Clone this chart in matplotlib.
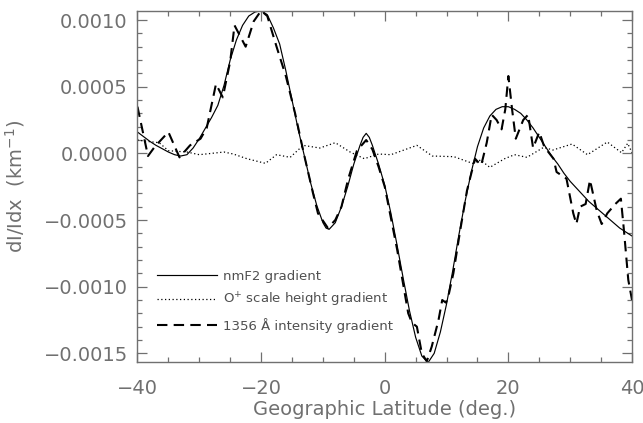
import numpy as np
import matplotlib
matplotlib.use("Agg")
import matplotlib.pyplot as plt
from matplotlib.ticker import MultipleLocator, FuncFormatter

# latitude grids (deg) and gradients (1e-4 km^-1) for the three profiles
lat_nmf2 = [-40, -39, -38, -37, -36, -35, -34, -33, -32, -31, -30, -29, -28, -27,
            -26, -25, -24, -23, -22, -21, -20, -19, -18, -17, -16, -15, -14, -13,
            -12, -11, -10, -9.5, -9, -8, -7, -6, -5, -4, -3.5, -3, -2.5, -2, -1,
            0, 1, 2, 3, 4, 5, 6, 7, 8, 9, 10, 11, 12, 13, 14, 15, 16, 17, 18, 19,
            20, 21, 22, 23, 24, 25, 26, 27, 28, 29, 30, 31, 32, 33, 34, 35, 36,
            37, 38, 39, 40]
grad_nmf2 = [1.6, 1.25, 0.9, 0.6, 0.35, 0.1, -0.1, -0.2, -0.1, 0.4, 1.1, 1.9, 2.7,
             3.6, 5.1, 7.0, 8.5, 9.6, 10.3, 10.6, 10.7, 10.4, 9.4, 8.2, 6.2, 4.0,
             1.8, -0.2, -2.2, -3.9, -5.2, -5.6, -5.7, -5.2, -4.0, -2.5, -0.8, 0.6,
             1.2, 1.5, 1.2, 0.6, -0.8, -2.4, -4.5, -6.9, -9.4, -11.8, -13.8, -15.2,
             -15.7, -15.0, -13.4, -11.3, -8.8, -6.1, -3.6, -1.4, 0.5, 1.9, 2.8,
             3.3, 3.5, 3.5, 3.3, 3.0, 2.5, 1.9, 1.2, 0.5, -0.2, -0.8, -1.5, -2.1,
             -2.6, -3.1, -3.6, -4.0, -4.4, -4.8, -5.2, -5.6, -5.9, -6.2]

lat_scale = [-40, -38.5, -36.5, -35, -32, -30, -28, -26, -24.5, -22.3, -19.3,
             -17.5, -15.3, -13.2, -10.5, -8, -5.6, -3.3, -1, 1, 5.2, 7.7, 11.2,
             14.2, 15.5, 17, 19.4, 21, 23, 25.7, 27.2, 30.3, 32.8, 36, 38.3,
             39.3, 40]
grad_scale = [1.0, 0.9, 0.8, 0.2, 0.1, -0.1, 0.0, 0.1, -0.05, -0.4, -0.75, -0.1,
              -0.3, 0.6, 0.4, 0.8, 0.1, -0.4, -0.05, -0.1, 0.6, -0.2, -0.25,
              -0.75, -0.5, -1.05, -0.4, -0.1, -0.3, 0.45, 0.25, 0.7, -0.1, 0.85,
              0.05, 0.75, 0.05]

lat_1356 = [-40, -38.3, -37.2, -35, -33.2, -31.5, -29.8, -28.8, -27.3, -26.2, -25.0,
            -24.3, -22.5, -21.2, -20.0, -19.0, -17.5, -16, -14.5, -13, -11.6,
            -10.8, -9.2, -8.0, -7.0, -5.9, -4.5, -3.0, -2.0, -1.0, 0.0, 2.0, 3.8,
            4.4, 5.2, 6.0, 6.8, 7.6, 8.7, 9.3, 9.9, 10.3, 11.1, 12.2, 13.3, 14.6,
            15.6, 16.5, 17.3, 18.1, 18.9, 19.5, 20.0, 20.6, 21.2, 22.4, 23.2,
            24.0, 25.0, 25.8, 27.3, 27.8, 29.4, 30.5, 31.0, 31.6, 32.5, 33.2,
            34.3, 35.1, 36.0, 37.3, 38.2, 38.7, 39.4, 40.0]
grad_1356 = [3.5, -0.2, 0.5, 1.6, -0.3, 0.6, 1.1, 1.9, 5.2, 4.2, 6.9, 9.6, 8.0,
             9.9, 10.7, 10.3, 8.0, 5.8, 3.0, -0.2, -3.0, -4.5, -5.6, -5.0, -4.0,
             -1.9, 0.2, 1.0, 0.3, -1.0, -2.5, -7.2, -12.0, -12.7, -13.0, -15.0,
             -15.6, -14.5, -12.5, -11.0, -11.2, -10.7, -9.0, -5.8, -2.8, -0.4,
             -0.9, 0.8, 2.9, 2.5, 1.8, 3.3, 5.8, 3.3, 1.1, 2.5, 2.9, 0.4, 1.6,
             0.5, -0.4, -1.4, -1.9, -4.5, -5.3, -4.0, -3.8, -2.0, -4.3, -5.3,
             -4.5, -3.8, -3.4, -5.8, -9.5, -11.0]

GREY = "#707070"
plt.rcParams["font.family"] = "DejaVu Sans"

fig = plt.figure(figsize=(6.43, 4.23), dpi=100)
ax = fig.add_axes([0.2138, 0.1442, 0.7691, 0.8305])

scale = 1e-4
ax.plot(lat_nmf2, np.array(grad_nmf2) * scale, color="black", lw=0.85,
        label="nmF2 gradient")
ax.plot(lat_scale, np.array(grad_scale) * scale, color="black", lw=0.9,
        linestyle=(0, (1, 2)), label=r"O$^{+}$ scale height gradient")
ax.plot(lat_1356, np.array(grad_1356) * scale, color="black", lw=1.5,
        linestyle=(0, (5, 3)), label="1356 Å intensity gradient")

ax.set_xlim(-40, 40)
ax.set_ylim(-0.001565, 0.00107)

ax.xaxis.set_major_locator(MultipleLocator(20))
ax.xaxis.set_minor_locator(MultipleLocator(5))
ax.yaxis.set_major_locator(MultipleLocator(0.0005))
ax.yaxis.set_minor_locator(MultipleLocator(0.0001))


def fmt_y(v, pos):
    s = "%.4f" % v
    if s == "-0.0000":
        s = "0.0000"
    return s.replace("-", "\u2212")


ax.yaxis.set_major_formatter(FuncFormatter(fmt_y))

ax.tick_params(which="both", direction="in", top=True, right=True,
               color=GREY, labelcolor=GREY, labelsize=14, width=0.9)
ax.tick_params(which="major", length=7)
ax.tick_params(which="minor", length=3.5)
ax.tick_params(axis="x", pad=12)
ax.tick_params(axis="y", pad=7)
for sp in ax.spines.values():
    sp.set_color(GREY)
    sp.set_linewidth(1.0)

ax.set_xlabel("Geographic Latitude (deg.)", fontsize=14, color=GREY, labelpad=2)
ax.set_ylabel(r"dI/Idx  (km$^{-1}$)", fontsize=14, color=GREY, labelpad=12)

leg = ax.legend(loc="upper left", bbox_to_anchor=(0.039, 0.262), frameon=False,
                fontsize=9.5, handlelength=4.6, handletextpad=0.4,
                labelspacing=0.62, borderpad=0, borderaxespad=0)
for t in leg.get_texts():
    t.set_color("#505050")

fig.savefig("out.png", dpi=100)
